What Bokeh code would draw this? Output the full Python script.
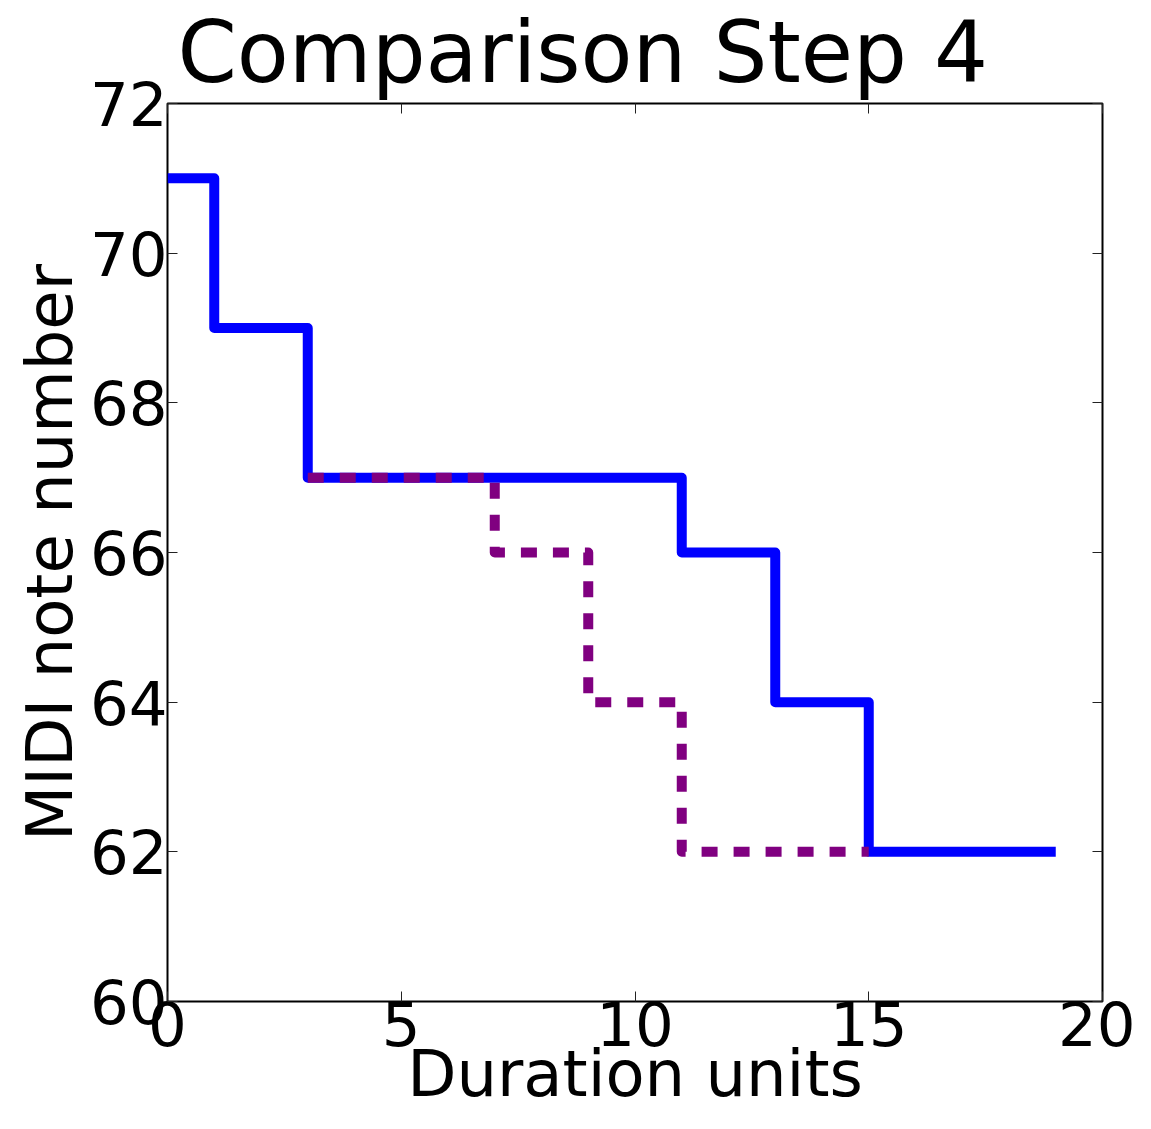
from bokeh.plotting import figure
from bokeh.models import Range1d, FixedTicker, LinearAxis, CustomJSTickFormatter
from bokeh.embed import file_html
from bokeh.resources import INLINE

# Data
blue_x = [0, 1, 3, 11, 13, 15, 19]
blue_y = [71, 69, 67, 66, 64, 62, 62]
purple_x = [3, 7, 9, 11, 15]
purple_y = [67, 66, 64, 62, 62]
x_ticks = [0, 5, 10, 15, 20]
y_ticks = [60, 62, 64, 66, 68, 70, 72]
x_label = "Duration units"
y_label = "MIDI note number"
title_text = "Comparison Step 4"

FONT = "DejaVu Sans"

p = figure(width=1135, height=1113, output_backend="svg", toolbar_location=None,
           x_range=Range1d(0, 20), y_range=Range1d(60, 72),
           x_axis_label=x_label, y_axis_label=y_label, title=title_text)
p.min_border_left = 167
p.min_border_right = 33
p.min_border_top = 103
p.min_border_bottom = 100

p.title.align = "left"
p.title.offset = 10
p.title.vertical_align = "top"
p.title.text_font = FONT
p.title.text_font_size = "85px"
p.title.text_font_style = "normal"
p.title.text_color = "black"
p.title.standoff = 0

p.grid.visible = False
p.outline_line_color = "black"
p.outline_line_width = 2
p.background_fill_color = "white"
p.border_fill_color = "white"

def style_axis(ax, ticks, labels=True):
    ax.ticker = FixedTicker(ticks=ticks)
    ax.major_tick_in = 10
    ax.major_tick_out = 0
    ax.minor_tick_in = 0
    ax.minor_tick_out = 0
    ax.major_tick_line_color = "#222222"
    ax.major_tick_line_width = 1
    ax.axis_line_color = None
    ax.major_label_text_font = FONT
    ax.major_label_text_font_size = "61px"
    ax.major_label_text_color = "black"
    ax.axis_label_text_font = FONT
    ax.axis_label_text_font_size = "64px"
    ax.axis_label_text_font_style = "normal"
    ax.axis_label_text_color = "black"
    if not labels:
        ax.formatter = CustomJSTickFormatter(code="return ''")
        ax.major_label_text_font_size = "1px"
        ax.major_label_standoff = 0

style_axis(p.xaxis[0], x_ticks)
style_axis(p.yaxis[0], y_ticks)
p.xaxis[0].major_label_standoff = -1
p.xaxis[0].axis_label_standoff = -12
p.yaxis[0].major_label_standoff = 0
p.yaxis[0].axis_label_standoff = 0

top = LinearAxis()
style_axis(top, x_ticks, labels=False)
p.add_layout(top, "above")
right = LinearAxis()
style_axis(right, y_ticks, labels=False)
p.add_layout(right, "right")

p.step(blue_x, blue_y, mode="after", line_color="#0000ff", line_width=10,
       line_join="round")
p.step(purple_x, purple_y, mode="after", line_color="#800080", line_width=10,
       line_dash="16 16", line_join="round")

open("out.html", "w").write(file_html(p, INLINE))
